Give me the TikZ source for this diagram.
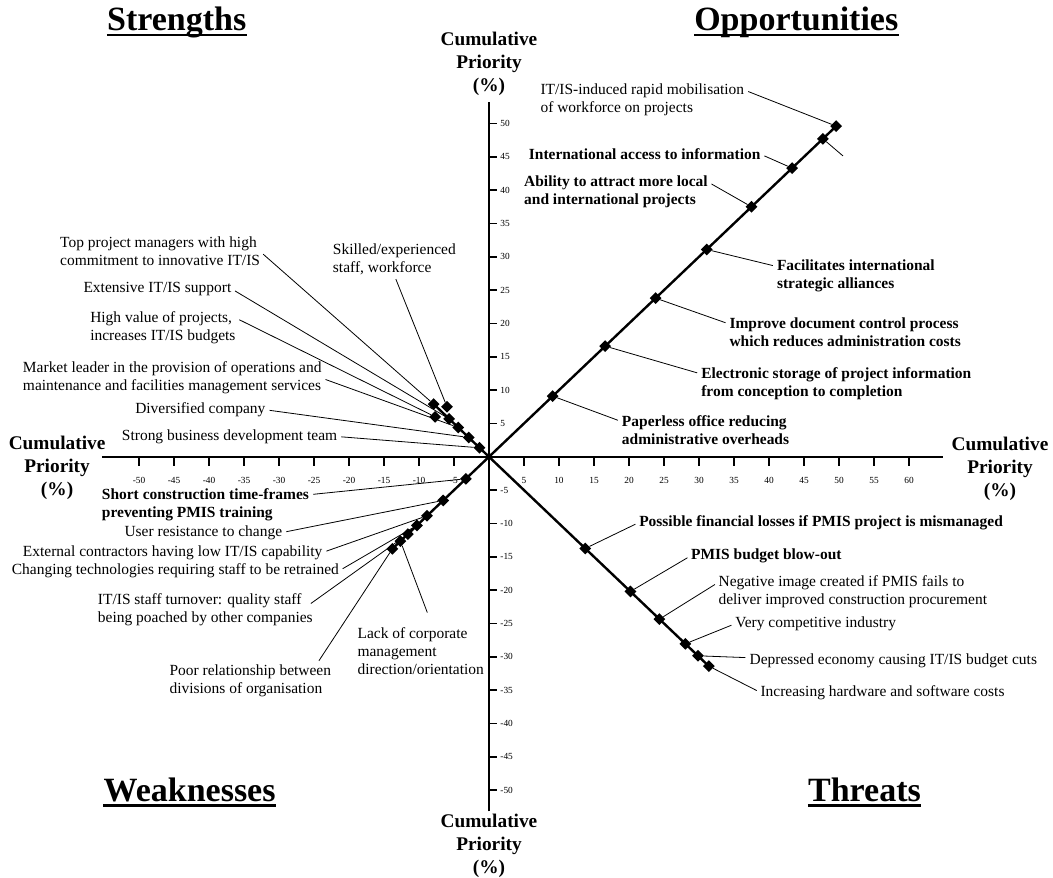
\documentclass[tikz,border=0pt]{standalone}
\usepackage{fontspec}
\setmainfont{Liberation Serif}
\usepackage{tikz}
\usetikzlibrary{positioning}
\usetikzlibrary{shapes.geometric}
\usetikzlibrary{backgrounds}

\begin{document}
\begin{tikzpicture}[
      , x=5.25pt, y=5pt
      , marker/.style={diamond, fill=black, inner sep=0pt, minimum size=9pt}
      , note/.style={inner sep=0pt, anchor=west, align=left, font=\fontsize{11.6}{13.5}\selectfont}
      , note-bold/.style={note, font=\fontsize{11.6}{13.5}\selectfont\bfseries}
      , leader/.style={line width=0.6pt, shorten <=3pt}
      , axis-line/.style={line width=1.5pt}
      , tick-line/.style={line width=1.1pt}
      , series/.style={line width=1.8pt}
      , tick-label/.style={inner sep=0pt, font=\fontsize{7}{8}\selectfont}
      , axis-title/.style={inner sep=0pt, align=center, font=\fontsize{14.5}{17.2}\selectfont\bfseries}
      , quadrant/.style={inner sep=0pt, anchor=base, font=\fontsize{25.5}{30}\selectfont\bfseries}
      ]

      \useasboundingbox (-69.857,-63.12) rectangle (80.571,68.52);

      \coordinate (origin) at (0,0);
      \coordinate (x-left) at (-55.3,0);
      \coordinate (x-right) at (64.9,0);
      \coordinate (y-top) at (0,53.2);
      \coordinate (y-bottom) at (0,-53.2);

      \node[axis-title, above = 5pt of y-top] (title-top) {Cumulative\\Priority\\(\%)};
      \node[axis-title, below = 1.5pt of y-bottom] (title-bottom) {Cumulative\\Priority\\(\%)};
      \node[axis-title] (title-left) at (-61.7,-1.65) {Cumulative\\Priority\\(\%)};
      \node[axis-title] (title-right) at (73,-1.8) {Cumulative\\Priority\\(\%)};

      \node[quadrant] (strengths) at (-44.61,63.87) {Strengths};
      \node[quadrant] (opportunities) at (43.9,63.87) {Opportunities};
      \node[quadrant] (weaknesses) at (-42.77,-51.68) {Weaknesses};
      \node[quadrant] (threats) at (53.64,-51.68) {Threats};
      \foreach \q in {strengths,opportunities,weaknesses,threats}
        \draw[line width=1.8pt] ([yshift=-3.2pt]\q.base west) -- ([yshift=-3.2pt]\q.base east);

      \draw[axis-line] (x-left) -- (x-right);
      \draw[axis-line] (y-bottom) -- (y-top);
      \foreach \v in {-50,-45,...,-5,5,10,...,60} {
        \draw[tick-line] (\v,0) -- (\v,-1.35);
        \node[tick-label] (xtick\v) at (\v,-3.6) {\v};
      }
      \foreach \v in {-50,-45,...,-5,5,10,...,50} {
        \draw[tick-line] (0,\v) -- (1.15,\v);
        \node[tick-label, anchor=west] (ytick\v) at (1.6,\v) {\v};
      }

      \foreach \px/\py [count=\i] in {-1.35/1.35,-2.9/2.9,-4.4/4.4,-5.7/5.7,-7.7/6.0,-6.0/7.5,-7.9/7.9}
        \node[marker] (s\i) at (\px,\py) {};
      \foreach \v [count=\i] in {3.3,6.55,8.85,10.3,11.6,12.65,13.8}
        \node[marker] (w\i) at (-\v,-\v) {};
      \foreach \v [count=\i] in {49.6,47.7,43.3,37.5,31.1,23.8,16.6,9.1}
        \node[marker] (o\i) at (\v,\v) {};
      \foreach \v [count=\i] in {13.75,20.2,24.35,28.05,29.85,31.4}
        \node[marker] (t\i) at (\v,-\v) {};
      \coordinate (o2-end) at (50.57,45.13);

      \node[note] (s1-text) at (-52.47,3.04) {Strong business development team};
      \node[note] (s2-text) at (-50.57,7.05) {Diversified company};
      \node[note] (s3-text) at (-66.61,11.8) {Market leader in the provision of operations and\\maintenance and facilities management services};
      \node[note] (s4-text) at (-57.96,25.19) {Extensive IT/IS support};
      \node[note] (s5-text) at (-57.0,19.37) {High value of projects,\\increases IT/IS budgets};
      \node[note] (s6-text) at (-22.33,29.58) {Skilled/experienced\\staff, workforce};
      \node[note] (s7-text) at (-61.29,30.78) {Top project managers with high\\commitment to innovative IT/IS};

      \node[note-bold] (w1-text) at (-55.33,-7.15) {Short construction time-frames\\preventing PMIS training};
      \node[note] (w2-text) at (-52.1,-11.35) {User resistance to change};
      \node[note] (w3-text) at (-66.61,-14.35) {External contractors having low IT/IS capability};
      \node[note] (w4-text) at (-68.19,-17.09) {Changing technologies requiring staff to be retrained};
      \node[note] (w5-text) at (-55.9,-23.01) {IT/IS staff turnover: quality staff\\being poached by other companies};
      \node[note] (w6-text) at (-18.81,-29.1) {Lack of corporate\\management\\direction/orientation};
      \node[note] (w7-text) at (-45.67,-33.55) {Poor relationship between\\divisions of organisation};

      \node[note] (o1-text) at (7.33,53.57) {IT/IS-induced rapid mobilisation\\of workforce on projects};
      \node[note-bold] (o3-text) at (5.66,45.38) {International access to information};
      \node[note-bold] (o4-text) at (4.99,39.78) {Ability to attract more local\\and international projects};
      \node[note-bold] (o5-text) at (41.11,27.09) {Facilitates international\\strategic alliances};
      \node[note-bold] (o6-text) at (34.33,18.70) {Improve document control process\\which reduces administration costs};
      \node[note-bold] (o7-text) at (30.29,10.97) {Electronic storage of project information\\from conception to completion};
      \node[note-bold] (o8-text) at (18.96,4.05) {Paperless office reducing\\administrative overheads};

      \node[note-bold] (t1-text) at (21.43,-9.85) {Possible financial losses if PMIS project is mismanaged};
      \node[note-bold] (t2-text) at (28.84,-14.84) {PMIS budget blow-out};
      \node[note] (t3-text) at (32.76,-20.29) {Negative image created if PMIS fails to\\deliver improved construction procurement};
      \node[note] (t4-text) at (35.16,-25.04) {Very competitive industry};
      \node[note] (t5-text) at (37.2,-30.54) {Depressed economy causing IT/IS budget cuts};
      \node[note] (t6-text) at (38.76,-35.34) {Increasing hardware and software costs};

      \begin{scope}[on background layer]
        \draw[series] (origin) -- (s7.center);
        \draw[series] (origin) -- (w7.center);
        \draw[series] (origin) -- (o1.center);
        \draw[series] (origin) -- (t6.center);

        \draw[leader] (s1-text.east) -- (s1);
        \draw[leader] (s2-text.east) -- (s2);
        \draw[leader] (s3-text.east) -- (s3);
        \draw[leader] (s4-text.east) -- (s4);
        \draw[leader] ([yshift=-5pt]s5-text.north east) -- (s5);
        \draw[leader] (s6-text.south) -- (s6);
        \draw[leader] (s7-text.east) -- (s7);

        \draw[leader] ([yshift=-5pt]w1-text.north east) -- (w1);
        \draw[leader] (w2-text.east) -- (w2);
        \draw[leader] (w3-text.east) -- (w3);
        \draw[leader] (w4-text.east) -- (w4);
        \draw[leader] ([xshift=-4pt,yshift=-9pt]w5-text.north east) -- (w5);
        \draw[leader] ([xshift=6pt,yshift=8pt]w6-text.north) -- (w6);
        \draw[leader] ([xshift=-11pt]w7-text.north east) -- (w7);

        \draw[leader] ([yshift=-5pt]o1-text.north east) -- (o1);
        \draw[leader, shorten <=0pt] (o2) -- (o2-end);
        \draw[leader] (o3-text.east) -- (o3);
        \draw[leader] ([yshift=-5pt]o4-text.north east) -- (o4);
        \draw[leader] ([yshift=-5pt]o5-text.north west) -- (o5);
        \draw[leader] ([yshift=-5pt]o6-text.north west) -- (o6);
        \draw[leader] ([yshift=-5pt]o7-text.north west) -- (o7);
        \draw[leader] ([yshift=-5pt]o8-text.north west) -- (o8);

        \draw[leader] (t1-text.west) -- (t1);
        \draw[leader] (t2-text.west) -- (t2);
        \draw[leader] ([yshift=-5pt]t3-text.north west) -- (t3);
        \draw[leader] (t4-text.west) -- (t4);
        \draw[leader] ([yshift=2pt]t5-text.west) -- (t5);
        \draw[leader] (t6-text.west) -- (t6);
      \end{scope}
    \end{tikzpicture}
\end{document}
